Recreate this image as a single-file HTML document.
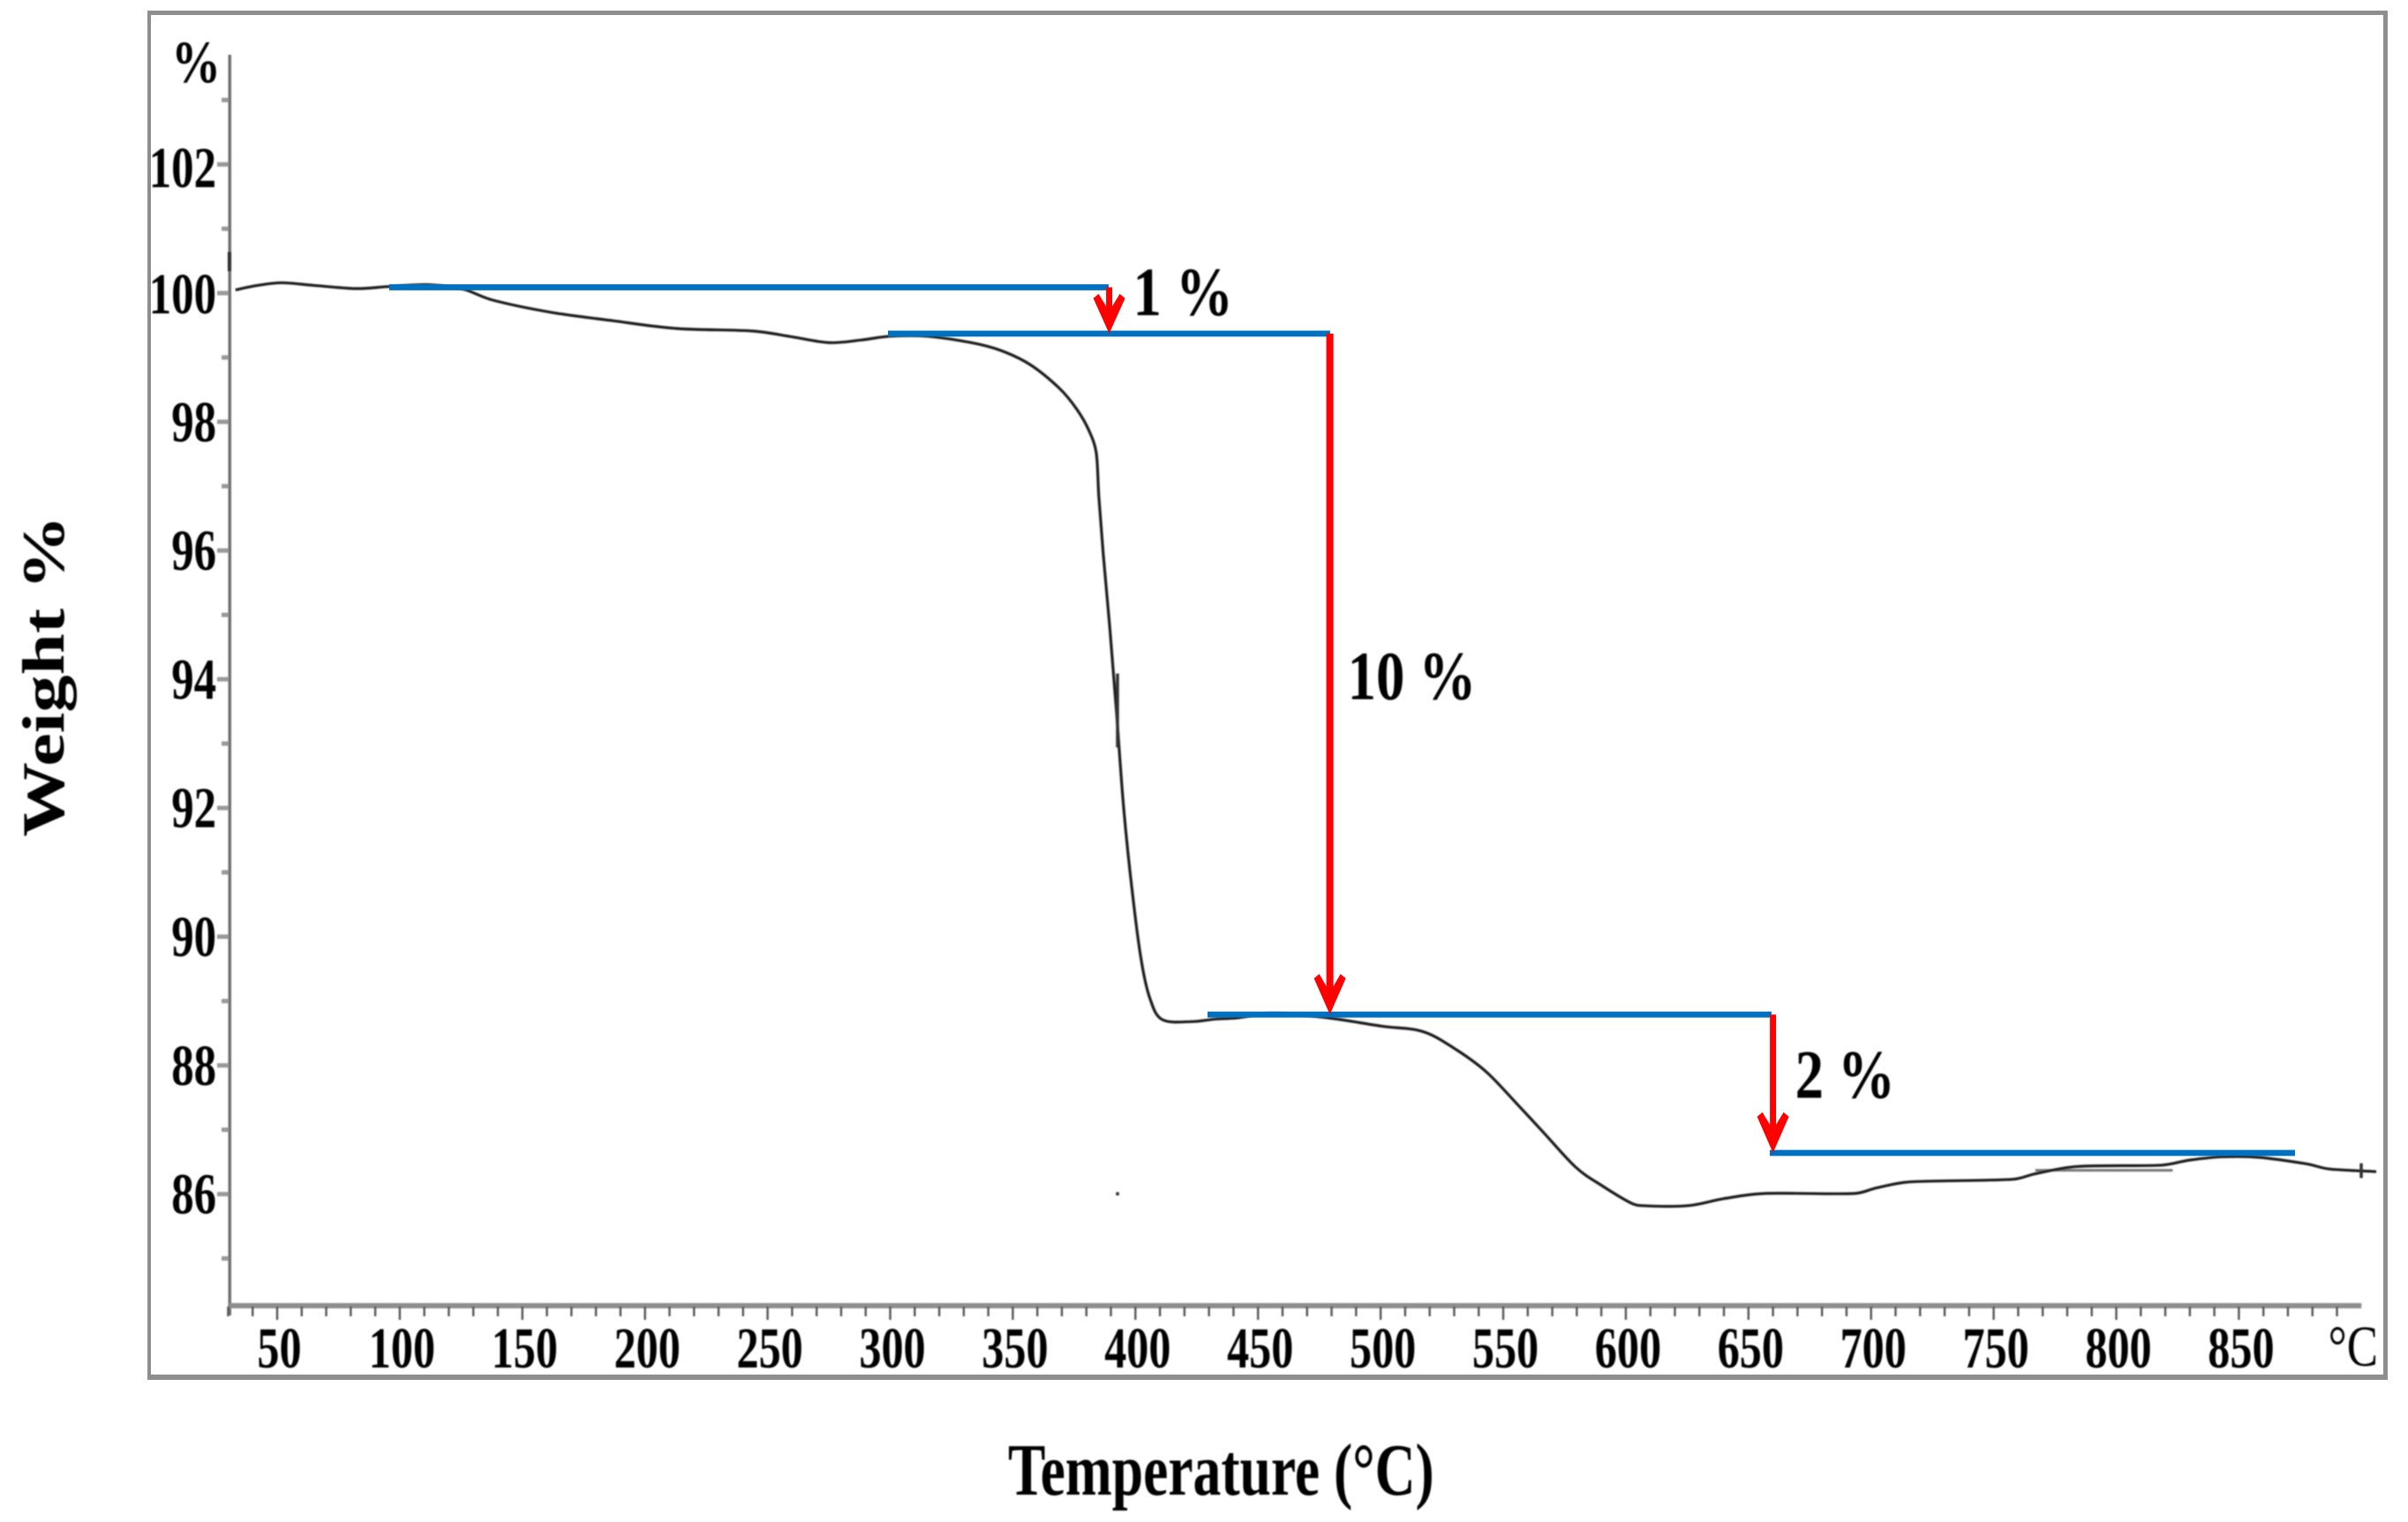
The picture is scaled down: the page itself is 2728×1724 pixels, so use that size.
<!DOCTYPE html>
<html lang="en">
<head>
<meta charset="utf-8">
<title>TGA curve</title>
<style>
html,body{margin:0;padding:0;background:#fff;}
body{width:2728px;height:1724px;overflow:hidden;}
svg{display:block;}
text{font-family:"Liberation Serif","DejaVu Serif",serif;fill:#000;}
</style>
</head>
<body>
<svg id="chart" xmlns="http://www.w3.org/2000/svg" width="2728" height="1724" viewBox="0 0 2728 1724">
  <defs>
    <filter id="soft" x="-2%" y="-2%" width="104%" height="104%"><feGaussianBlur stdDeviation="0.9"/></filter>
  </defs>
  <rect x="0" y="0" width="2728" height="1724" fill="#ffffff"/>
  <g fill="#8e8e8e">
    <rect x="167" y="12" width="2538" height="5"/>
    <rect x="167" y="12" width="4" height="1551"/>
    <rect x="2700" y="12" width="5" height="1551"/>
    <rect x="167" y="1557" width="2538" height="6"/>
  </g>
  <g id="axes" filter="url(#soft)"></g>
  <g id="series" filter="url(#soft)"></g>
  <g id="annotations"></g>
  <g id="labels" filter="url(#soft)"></g>
  <g filter="url(#soft)">
    <text font-size="68" font-weight="bold" transform="translate(72,948) rotate(-90) scale(1.245,1)">Weight %</text>
    <text font-size="84" font-weight="bold" transform="translate(1142,1693) scale(0.757,1)">Temperature (°C)</text>
  </g>
</svg>
<script>
// Curve values
const temperature = [33,42,52,65,82,95,110,120,127,138,162,187,213,244,260,275,288,300,315,333,345,357,369,376,381,384,385.1,386.9,389.5,392.3,395.2,398.8,402.4,406,411,423,432.6,441.7,456.4,478.4,500.3,516.9,529.8,542.8,555.4,566.6,579.5,590.3,602.2,606.9,625.2,640,656.6,693.3,702.6,716,757.7,767.4,784.3,818.5,830.1,843.4,858.5,877.6,887,906];
const weight = [100.05,100.12,100.16,100.12,100.07,100.1,100.13,100.1,100.05,99.89,99.7,99.57,99.45,99.41,99.32,99.23,99.27,99.33,99.33,99.23,99.11,98.89,98.52,98.2,97.87,97.52,96.83,95.94,94.83,93.49,92.0,90.67,89.63,89.03,88.71,88.68,88.72,88.74,88.81,88.74,88.61,88.53,88.27,87.91,87.41,86.95,86.42,86.13,85.86,85.82,85.82,85.93,86.01,86.01,86.10,86.19,86.23,86.32,86.43,86.45,86.53,86.58,86.57,86.47,86.39,86.35];

// Axis ticks
const xTickValues = [50,100,150,200,250,300,350,400,450,500,550,600,650,700,750,800,850];
const xMinorValues = [30,40,60,70,80,90,110,120,130,140,160,170,180,190,210,220,230,240,260,270,280,290,310,320,330,340,360,370,380,390,410,420,430,440,460,470,480,490,510,520,530,540,560,570,580,590,610,620,630,640,660,670,680,690,710,720,730,740,760,770,780,790,810,820,830,840,860,870,880,890];
const yTickValues = [86,88,90,92,94,96,98,100,102];
const yMinorValues = [85,87,89,91,93,95,97,99,101,103];

// Step annotations
const levelWeight = [100.09,99.37,88.79,86.64];
const levelStart = [95.7,299.1,429.4,658.7];
const levelEnd = [389.1,479.4,659.4,872.9];
const stepTemperature = [389.3,479.3,660];
const stepFrom = [100.09,99.37,88.79];
const stepTo = [99.37,88.79,86.64];
const stepLabels = ["1 %","10 %","2 %"];
const stepLabelT = [399,486.5,669];
const stepLabelW = [99.66,93.69,87.5];

// Scan artefacts of the original instrument trace
const artefactT = [392.7,30.5,899.9,392.7];
const artefactFrom = [94.09,100.64,86.48,86.03];
const artefactTo = [92.94,100.34,86.25,85.98];
const shadowT = [767,823];
const shadowW = [86.37,86.37];

const NS = "http://www.w3.org/2000/svg";
const xPos = t => 314 + (t - 50) * 2.778;
const yPos = w => 332 + (100 - w) * 72.9;

function make(parent, tag, attrs, text) {
  const el = document.createElementNS(NS, tag);
  for (const k in attrs) el.setAttribute(k, attrs[k]);
  if (text !== undefined) el.textContent = text;
  parent.appendChild(el);
  return el;
}

const axes = document.getElementById("axes");
const series = document.getElementById("series");
const annotations = document.getElementById("annotations");
const labels = document.getElementById("labels");

// axis lines
const yAxisLine = make(axes, "rect", {x:258.5, y:62, width:3.5, height:1428, fill:"#6f6f6f"});


const xAxisLine = make(axes, "rect", {x:xPos(30.5), y:1476, width:xPos(900)-xPos(30.5), height:6, fill:"#8e8e8e"});



// x ticks and labels
xMinorValues.forEach(t => {
  const tick = make(axes, "rect", {x:xPos(t)-1.2, y:1480, width:2.4, height:11, fill:"#555"});
  
  
});
xTickValues.forEach(t => {
  const tick = make(axes, "rect", {x:xPos(t)-1.2, y:1480, width:2.4, height:15, fill:"#555"});
  
  
  const label = make(labels, "text", {"font-size":66, "font-weight":"bold", "text-anchor":"middle",
    transform:"translate(" + (xPos(t)+2.5) + ",1549) scale(0.76,1)"}, String(t));
  
  
});

// y ticks and labels
yMinorValues.forEach(w => {
  const tick = make(axes, "rect", {x:251, y:yPos(w)-2.5, width:8, height:5, fill:"#999"});
  
  
});
yTickValues.forEach(w => {
  const tick = make(axes, "rect", {x:246, y:yPos(w)-2.5, width:13, height:5, fill:"#999"});
  
  
  const nudge = w === 102 ? 4 : (w === 100 ? 1 : 0);
  const label = make(labels, "text", {"font-size":66, "font-weight":"bold", "text-anchor":"end",
    transform:"translate(245," + (yPos(w)+22+nudge) + ") scale(0.77,1)"}, String(w));
  
  
});

const unitY = make(labels, "text", {"font-size":68, "font-weight":"bold", "text-anchor":"end", transform:"translate(250,93) scale(0.82,1)"}, "%");


const unitX = make(labels, "text", {"font-size":66, "text-anchor":"end", transform:"translate(2694,1547) scale(0.8,1)"}, "°C");



// curve: Catmull-Rom through the data points, with handles clamped so short segments stay tight
function curvePath(ts, ws) {
  const px = ts.map(xPos), py = ws.map(yPos);
  const k = 1 / 6;
  function handle(vx, vy, segLen) {
    const len = Math.hypot(vx, vy) * k, maxLen = segLen * 0.4;
    const s = len > maxLen && len > 0 ? maxLen / len : 1;
    return [vx * k * s, vy * k * s];
  }
  let d = "M" + px[0].toFixed(1) + " " + py[0].toFixed(1);
  for (let i = 0; i < px.length - 1; i++) {
    const a = Math.max(i - 1, 0), b = Math.min(i + 2, px.length - 1);
    const seg = Math.hypot(px[i+1] - px[i], py[i+1] - py[i]);
    const h1 = handle(px[i+1] - px[a], py[i+1] - py[a], seg);
    const h2 = handle(px[b] - px[i], py[b] - py[i], seg);
    d += "C" + (px[i] + h1[0]).toFixed(1) + " " + (py[i] + h1[1]).toFixed(1) + " " +
         (px[i+1] - h2[0]).toFixed(1) + " " + (py[i+1] - h2[1]).toFixed(1) + " " +
         px[i+1].toFixed(1) + " " + py[i+1].toFixed(1);
  }
  return d;
}
const shadow = make(series, "line", {x1:xPos(shadowT[0]), y1:yPos(shadowW[0]), x2:xPos(shadowT[1]), y2:yPos(shadowW[1]), stroke:"#777", "stroke-width":3});


const curve = make(series, "path", {d:curvePath(temperature, weight), fill:"none", stroke:"#1e1e1e", "stroke-width":3.2, "stroke-linejoin":"round"});



artefactT.forEach((t, i) => {
  const mark = make(series, "line", {x1:xPos(t), y1:yPos(artefactFrom[i]), x2:xPos(t), y2:yPos(artefactTo[i]), stroke:"#333", "stroke-width":3.5});
  
  
});

// blue levels
levelWeight.forEach((w, i) => {
  const line = make(annotations, "rect", {x:xPos(levelStart[i]), y:yPos(w)-3.4, width:xPos(levelEnd[i])-xPos(levelStart[i]), height:6.8, fill:"#0070c0"});
  
  
});

// red arrows
stepTemperature.forEach((t, i) => {
  const x = xPos(t), y0 = yPos(stepFrom[i]), y1 = yPos(stepTo[i]);
  const hw = 17, hh = i === 0 ? 43 : 44, half = i === 1 ? 4 : 3.5;
  const pts = [
    [x-half, y0], [x+half, y0], [x+half, y1-hh+12],
    [x+hw-5, y1-hh-2], [x+hw+1, y1-hh+3], [x, y1],
    [x-hw-1, y1-hh+3], [x-hw+5, y1-hh-2], [x-half, y1-hh+12]
  ];
  const arrow = make(annotations, "polygon", {points:pts.map(p => p[0].toFixed(1) + "," + p[1].toFixed(1)).join(" "), fill:"#ff0000"});
  
  
  const label = make(labels, "text", {"font-size":78, "font-weight":"bold",
    transform:"translate(" + xPos(stepLabelT[i]) + "," + yPos(stepLabelW[i]) + ") scale(0.83,1)"}, stepLabels[i]);
  
  
});
</script>
</body>
</html>
